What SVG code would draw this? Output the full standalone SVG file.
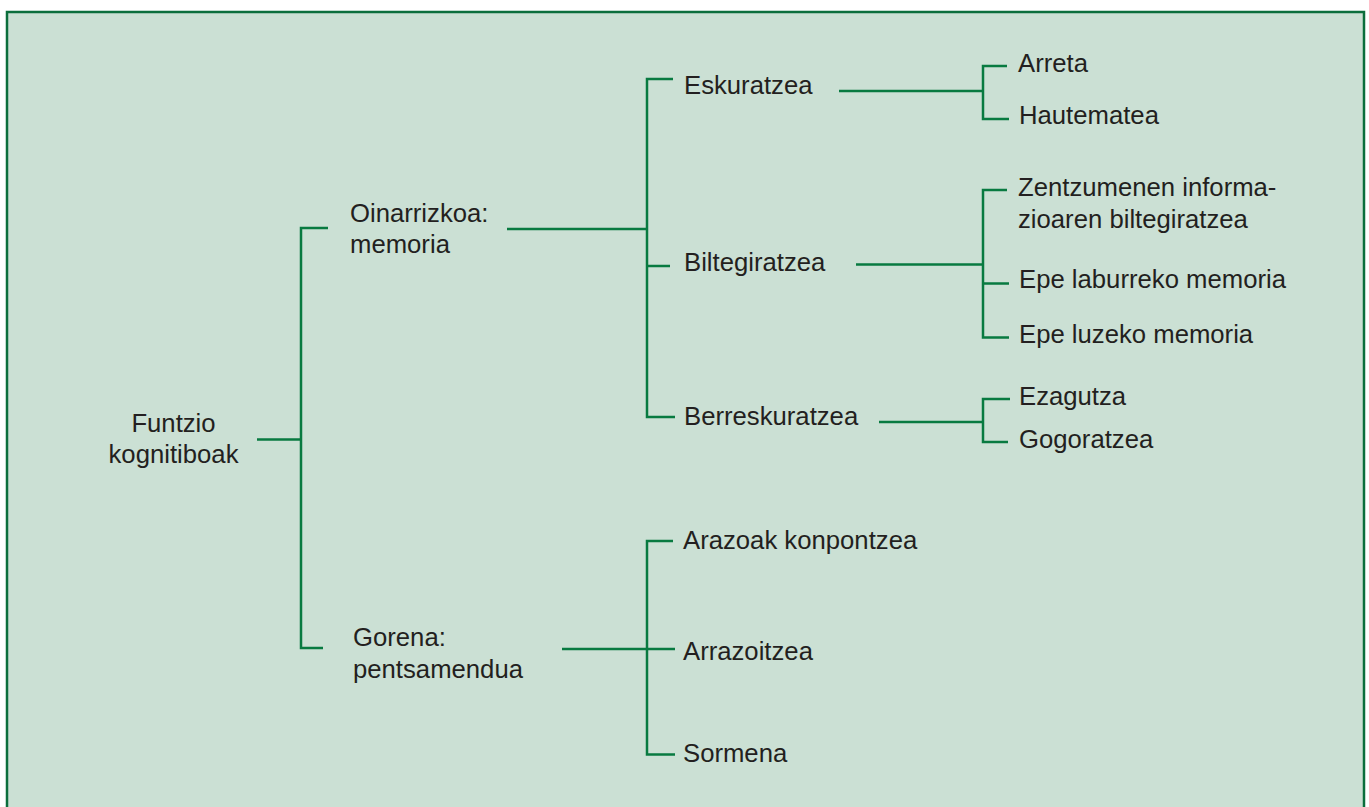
<svg xmlns="http://www.w3.org/2000/svg" width="1369" height="807" viewBox="0 0 1369 807">
<style>
.t{font-family:"Liberation Sans",Arial,sans-serif;font-size:25.7px;fill:#231f20}
.c{fill:none;stroke:#087a40;stroke-width:2.5;stroke-linecap:butt;stroke-linejoin:miter}
</style>
<rect x="0" y="0" width="1369" height="807" fill="#ffffff"/>
<rect id="frame" x="7" y="12" width="1357" height="810" fill="#cbe0d4" stroke="#0b6e3c" stroke-width="2.5"/>
<g id="connectors">
<path class="c" d="M257 439.5H301M328 228H301V648H323"/>
<path class="c" d="M507 229H647M673 79H647V417H675M647 266H670"/>
<path class="c" d="M839 91H983M1007 66H983V119H1009"/>
<path class="c" d="M856 264.5H983M1007 190H983V337.5H1009M983 283.5H1009"/>
<path class="c" d="M879 422H983M1010 399H983V442H1008"/>
<path class="c" d="M562 649H675M673 541H647V754.5H675"/>
</g>
<g id="n-root"><text class="t" x="173.5" y="432" text-anchor="middle">Funtzio</text><text class="t" x="173.5" y="463" text-anchor="middle">kognitiboak</text></g>
<g id="n-oinarrizkoa"><text class="t" x="350" y="222">Oinarrizkoa:</text><text class="t" x="350" y="253">memoria</text></g>
<g id="n-gorena"><text class="t" x="353" y="646">Gorena:</text><text class="t" x="353" y="678">pentsamendua</text></g>
<g id="n-eskuratzea"><text class="t" x="684" y="94">Eskuratzea</text></g>
<g id="n-biltegiratzea"><text class="t" x="684" y="271">Biltegiratzea</text></g>
<g id="n-berreskuratzea"><text class="t" x="684" y="425">Berreskuratzea</text></g>
<g id="n-arreta"><text class="t" x="1018" y="72">Arreta</text></g>
<g id="n-hautematea"><text class="t" x="1019" y="124">Hautematea</text></g>
<g id="n-zentzumenen"><text class="t" x="1018" y="196">Zentzumenen informa-</text><text class="t" x="1018" y="228">zioaren biltegiratzea</text></g>
<g id="n-epelaburreko"><text class="t" x="1019" y="288">Epe laburreko memoria</text></g>
<g id="n-epeluzeko"><text class="t" x="1019" y="343">Epe luzeko memoria</text></g>
<g id="n-ezagutza"><text class="t" x="1019" y="405">Ezagutza</text></g>
<g id="n-gogoratzea"><text class="t" x="1019" y="448">Gogoratzea</text></g>
<g id="n-arazoak"><text class="t" x="683" y="549">Arazoak konpontzea</text></g>
<g id="n-arrazoitzea"><text class="t" x="683" y="660">Arrazoitzea</text></g>
<g id="n-sormena"><text class="t" x="683" y="762">Sormena</text></g>
</svg>
